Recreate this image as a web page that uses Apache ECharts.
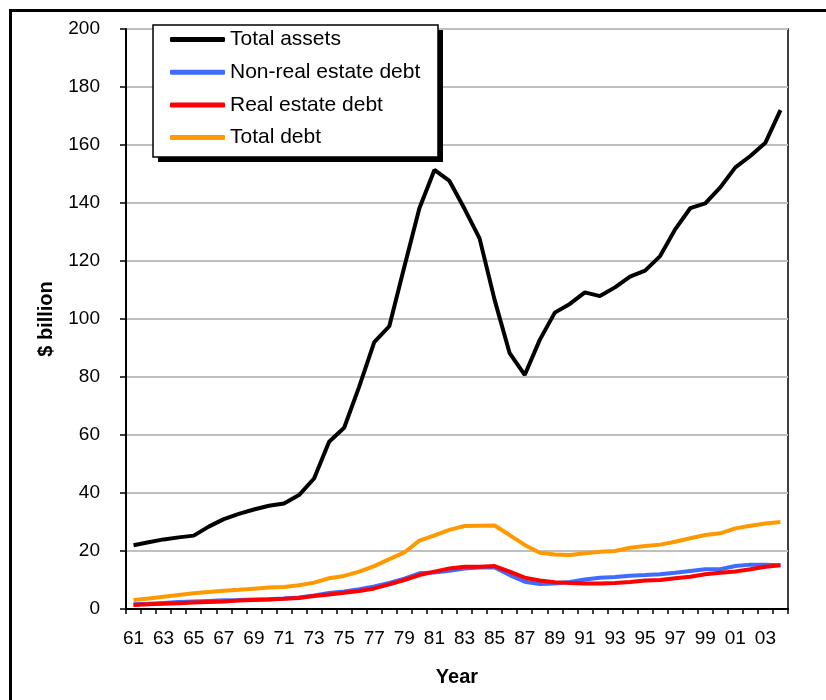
<!DOCTYPE html>
<html>
<head>
<meta charset="utf-8">
<script src="https://cdn.jsdelivr.net/npm/echarts@6/dist/echarts.min.js"></script>
<style>
html,body{margin:0;padding:0;background:#fff;}
#chart{width:826px;height:700px;}
</style>
</head>
<body>
<div id="chart"></div>
<script>
const years = ['61','62','63','64','65','66','67','68','69','70','71','72','73','74','75','76','77','78','79','80','81','82','83','84','85','86','87','88','89','90','91','92','93','94','95','96','97','98','99','00','01','02','03','04'];
const totalAssets = [22,23,24,24.7,25.3,28.4,31,32.8,34.3,35.6,36.4,39.3,45,57.7,62.5,76.7,92,97.5,118,138.2,151.4,147.6,138,127.8,106.6,88.2,80.7,92.8,102.2,105.2,109.2,107.9,110.9,114.6,116.7,121.7,130.9,138.2,139.9,145.4,152.3,156.2,160.8,172];
const nonRealEstateDebt = [1.6,1.8,2.1,2.4,2.6,2.8,3.0,3.1,3.3,3.4,3.6,4.0,4.7,5.5,6.0,6.8,7.8,9.0,10.5,12.3,12.6,13.2,14.0,14.3,14.3,11.7,9.4,8.6,8.8,9.3,10.2,10.8,11.0,11.5,11.7,12.0,12.5,13.1,13.7,13.7,14.8,15.3,15.3,15.1];
const realEstateDebt = [1.4,1.6,1.8,2.0,2.2,2.4,2.6,2.9,3.1,3.3,3.5,3.8,4.5,5.0,5.6,6.2,7.1,8.5,10.0,11.7,12.9,14.0,14.6,14.6,14.8,12.9,10.8,9.8,9.2,9.0,8.8,8.8,9.0,9.3,9.8,10.0,10.6,11.1,12.0,12.5,12.9,13.7,14.6,15.1];
const totalDebt = [3.1,3.6,4.2,4.8,5.4,5.9,6.3,6.6,7.0,7.4,7.6,8.2,9.1,10.6,11.4,12.9,14.8,17.2,19.5,23.6,25.4,27.3,28.6,28.7,28.8,25.5,22.1,19.4,18.8,18.6,19.2,19.7,20,21.1,21.7,22.2,23.2,24.4,25.5,26.1,27.8,28.7,29.5,30.0];
const seriesNames = ['Total assets','Non-real estate debt','Real estate debt','Total debt'];
const seriesColors = ['#000000','#3F6BFF','#FF0000','#FF9900'];

const font = 'Liberation Sans, Arial, sans-serif';
const chart = echarts.init(document.getElementById('chart'), null, {renderer:'canvas'});
const dataList = [totalAssets, nonRealEstateDebt, realEstateDebt, totalDebt];

chart.setOption({
  animation:false,
  backgroundColor:'#fff',
  grid:{left:126,right:38,top:29,bottom:91,show:true,borderColor:'#000',borderWidth:1.5,backgroundColor:'transparent'},
  graphic:[
    {type:'rect',z:100,shape:{x:10.5,y:10.5,width:900,height:800},style:{fill:null,stroke:'#000',lineWidth:3}},
    {type:'rect',z:100,shape:{x:158,y:30,width:285,height:132},style:{fill:'#000'}},
    {type:'rect',z:101,shape:{x:153,y:25,width:285,height:132},style:{fill:'#fff',stroke:'#000',lineWidth:1.5}}
  ],
  legend:{
    z:200,
    left:170, top:29,
    padding:0,
    orient:'vertical',
    icon:'roundRect',
    itemWidth:55, itemHeight:5, itemGap:11.7,
    textStyle:{fontFamily:font,fontSize:21,color:'#000',lineHeight:20},
    data:seriesNames
  },
  xAxis:{
    type:'category',
    data:years,
    boundaryGap:true,
    name:'Year',
    nameLocation:'middle',
    nameGap:58,
    nameTextStyle:{fontFamily:font,fontSize:20,fontWeight:'bold',color:'#000'},
    axisLine:{lineStyle:{color:'#000',width:2}},
    axisTick:{show:true,interval:0,length:5,lineStyle:{color:'#000',width:1.5}},
    axisLabel:{interval:1,margin:20,fontFamily:font,fontSize:19,color:'#000'},
    splitLine:{show:false}
  },
  yAxis:{
    type:'value',
    min:0,max:200,interval:20,
    name:'$ billion',
    nameLocation:'middle',
    nameGap:70,
    nameRotate:90,
    nameTextStyle:{fontFamily:font,fontSize:20,fontWeight:'bold',color:'#000'},
    axisLine:{show:true,lineStyle:{color:'#000',width:2}},
    axisTick:{show:true,length:6,lineStyle:{color:'#000',width:1.5}},
    axisLabel:{margin:26,fontFamily:font,fontSize:19,color:'#000'},
    splitLine:{show:true,lineStyle:{color:'#C0C0C0',width:2}}
  },
  series:dataList.map((d,i)=>({
    name:seriesNames[i],
    type:'line',
    data:d,
    symbol:'none',
    color:seriesColors[i],
    lineStyle:{color:seriesColors[i],width:4},
    z:3
  }))
});
</script>
</body>
</html>
